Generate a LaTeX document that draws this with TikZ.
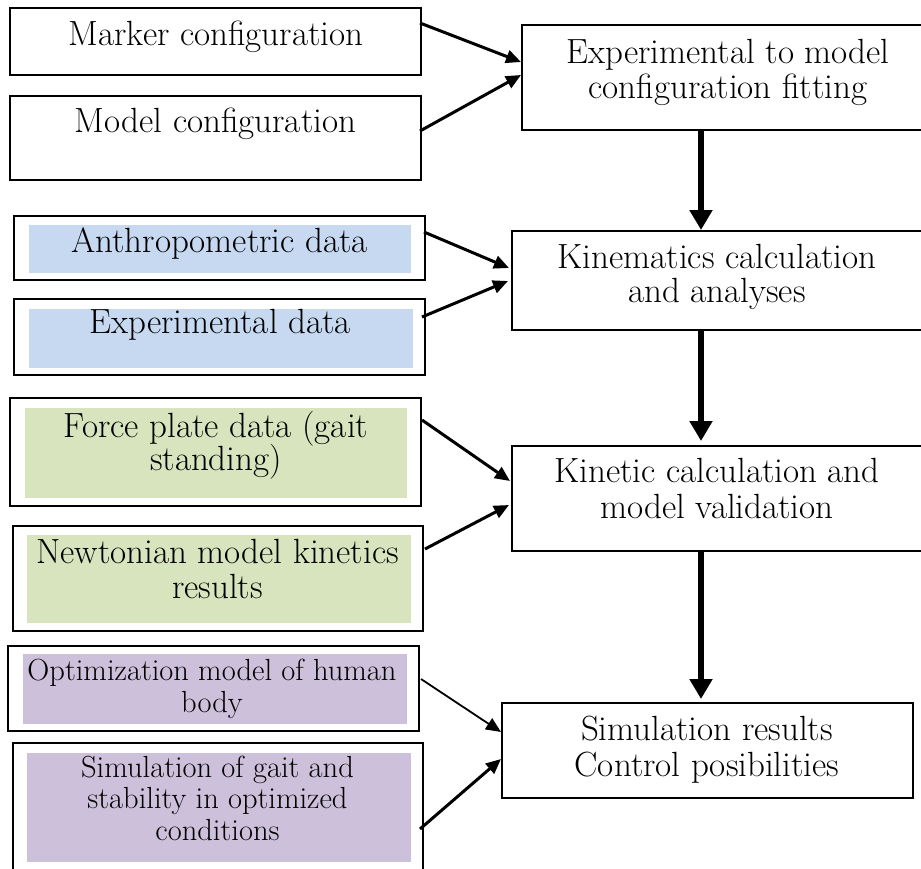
\documentclass[tikz,border=0pt]{standalone}
\usetikzlibrary{arrows.meta}
\definecolor{fillblue}{RGB}{198,217,241}
\definecolor{fillgreen}{RGB}{215,228,189}
\definecolor{fillpurple}{RGB}{204,192,218}
\tikzset{
  frame/.style={draw=black, line width=2pt, fill=white, inner sep=0pt, anchor=center},
  inner/.style={fill=#1, draw=none, inner sep=0pt, anchor=center},
  lbl/.style={anchor=base, inner sep=0pt, font=\fontsize{35}{35}\selectfont},
  slbl/.style={anchor=base, inner sep=0pt, font=\fontsize{30.5}{31}\selectfont},
  thin arrow/.style={-{Triangle[length=15pt,width=13pt]}, line width=3pt},
  thinner arrow/.style={-{Triangle[length=15pt,width=13pt]}, line width=1.8pt},
  flow arrow/.style={-{Triangle[length=20pt,width=22pt]}, line width=6pt},
}
\begin{document}
\begin{tikzpicture}[x=1pt,y=-1pt]
\useasboundingbox (0,0) rectangle (921,868);
% left boxes
\node[frame, minimum width=411pt, minimum height=67pt] (mk) at (215.5,41.5) {};
\node[frame, minimum width=411pt, minimum height=84pt] (mc) at (215.5,138) {};
\node[frame, minimum width=411pt, minimum height=64pt] (an) at (219.5,248) {};
\node[inner=fillblue, minimum width=382pt, minimum height=48pt] (anf) at (220,249) {};
\node[frame, minimum width=411pt, minimum height=76pt] (ex) at (219.5,337) {};
\node[inner=fillblue, minimum width=384pt, minimum height=59pt] (exf) at (221,338.5) {};
\node[frame, minimum width=411pt, minimum height=108pt] (fp) at (215.5,452) {};
\node[inner=fillgreen, minimum width=382pt, minimum height=90pt] (fpf) at (216,453) {};
\node[frame, minimum width=410pt, minimum height=105pt] (nw) at (218,578.5) {};
\node[inner=fillgreen, minimum width=384pt, minimum height=88pt] (nwf) at (219,579) {};
\node[frame, minimum width=411pt, minimum height=85pt] (op) at (213.5,688.5) {};
\node[inner=fillpurple, minimum width=384pt, minimum height=70pt] (opf) at (215,689) {};
\node[frame, minimum width=410pt, minimum height=157pt] (sg) at (218,821.5) {};
\node[inner=fillpurple, minimum width=384pt, minimum height=109pt] (sgf) at (219,807.5) {};
% right boxes
\node[frame, minimum width=438pt, minimum height=105pt] (fit) at (741,77.5) {};
\node[frame, minimum width=448pt, minimum height=99pt] (kin) at (736,280.5) {};
\node[frame, minimum width=448pt, minimum height=105pt] (ktc) at (736,498.5) {};
\node[frame, minimum width=411pt, minimum height=95pt] (sim) at (707.5,750.5) {};
% texts
\node[lbl] (t1) at (216,45) {Marker configuration};
\node[lbl] (t2) at (215.5,132) {Model configuration};
\node[lbl] (t3) at (219.5,252) {Anthropometric data};
\node[lbl] (t4) at (220,333) {Experimental data};
\node[lbl] (t5a) at (216,437) {Force plate data (gait};
\node[lbl] (t5b) at (216,470) {standing)};
\node[lbl] (t6a) at (217.5,563) {Newtonian model kinetics};
\node[lbl] (t6b) at (217.5,598) {results};
\node[slbl] (t7a) at (212,680) {Optimization model of human};
\node[slbl] (t7b) at (212,712) {body};
\node[slbl] (t8a) at (217.5,777) {Simulation of gait and};
\node[slbl] (t8b) at (217.5,808) {stability in optimized};
\node[slbl] (t8c) at (217.5,840) {conditions};
\node[lbl] (r1a) at (728,63) {Experimental to model};
\node[lbl] (r1b) at (728,98) {configuration fitting};
\node[lbl] (r2a) at (717,268) {Kinematics calculation};
\node[lbl] (r2b) at (717,302) {and analyses};
\node[lbl] (r3a) at (717,482) {Kinetic calculation and};
\node[lbl] (r3b) at (717,518) {model validation};
\node[lbl] (r4a) at (707,740) {Simulation results};
\node[lbl] (r4b) at (707,776) {Control posibilities};
% connectors
\draw[thin arrow] ([yshift=18.5pt,xshift=-2pt]mk.east) -- ([yshift=15.5pt]fit.west);
\draw[thin arrow] ([yshift=7pt,xshift=-2pt]mc.east) -- ([yshift=2.5pt]fit.west);
\draw[thin arrow] ([yshift=16pt,xshift=-2pt]an.east) -- ([yshift=12.5pt,xshift=-2pt]kin.west);
\draw[thin arrow] ([yshift=20pt,xshift=-4pt]ex.east) -- ([yshift=-0.5pt,xshift=-3pt]kin.west);
\draw[thin arrow] ([yshift=32pt]fp.east) -- ([yshift=17.5pt,xshift=-1pt]ktc.west);
\draw[thin arrow] ([yshift=29.5pt,xshift=1pt]nw.east) -- ([yshift=-6.5pt,xshift=-2pt]ktc.west);
\draw[thinner arrow] ([yshift=9.5pt,xshift=1pt]op.east) -- ([yshift=18.5pt]sim.west);
\draw[thin arrow] ([yshift=-7.5pt,xshift=-4pt]sg.east) -- ([yshift=-8.5pt]sim.west);
\draw[flow arrow] ([xshift=-40pt]fit.south) -- ([xshift=-35pt]kin.north);
\draw[flow arrow] ([xshift=-35pt]kin.south) -- ([xshift=-35pt,yshift=4pt]ktc.north);
\draw[flow arrow] ([xshift=-35pt]ktc.south) -- ([xshift=-6.5pt,yshift=3pt]sim.north);
\end{tikzpicture}
\end{document}
